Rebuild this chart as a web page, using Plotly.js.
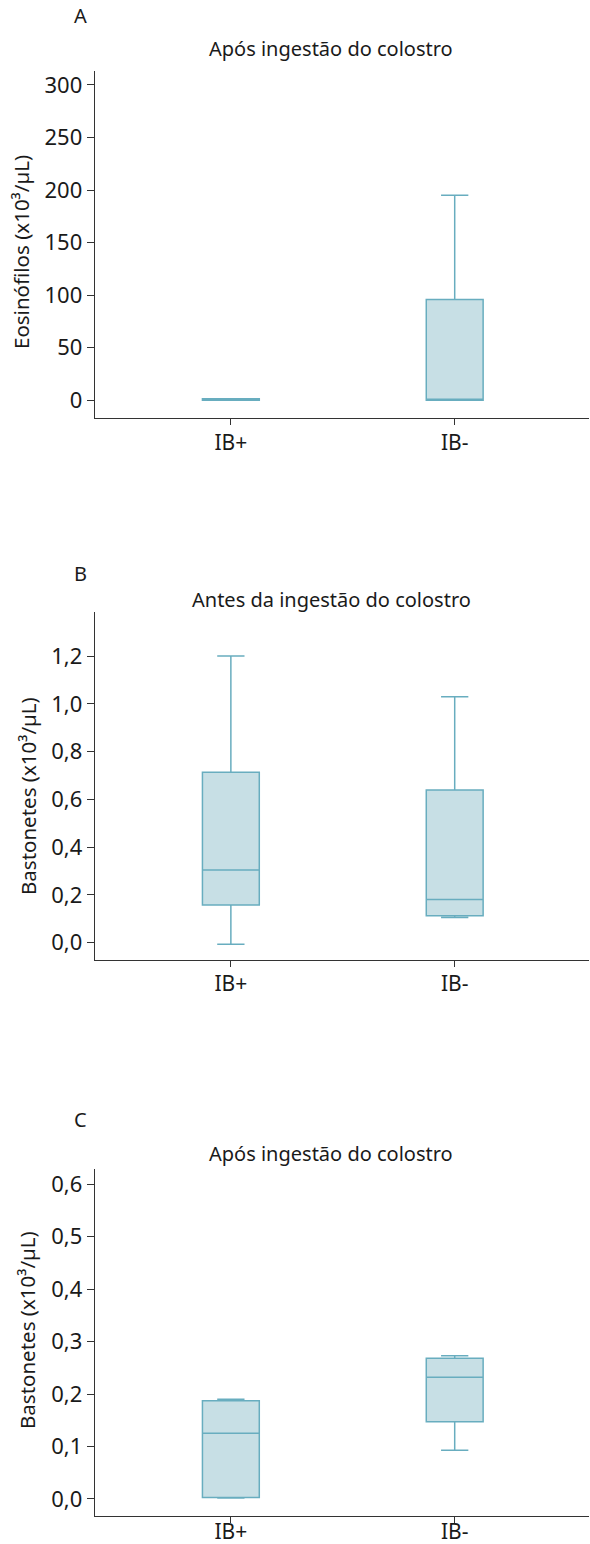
<!DOCTYPE html>
<html>
<head>
<meta charset="utf-8">
<script src="https://cdn.plot.ly/plotly-3.0.1.min.js"></script>
<style>html,body{margin:0;padding:0;background:#fff;}#chart{width:590px;height:1544px;}</style>
</head>
<body>
<div id="chart"></div>
<script>
// Categories
const categories = ['IB+', 'IB-'];

// Panel A: Eosinófilos, após ingestão do colostro
const eosLower  = [0, 0];
const eosQ1     = [0, 0];
const eosMedian = [0.8, 0];
const eosQ3     = [1.5, 96];
const eosUpper  = [1.5, 195];

// Panel B: Bastonetes, antes da ingestão do colostro
const bastAntesLower  = [-0.006, 0.106];
const bastAntesQ1     = [0.158, 0.113];
const bastAntesMedian = [0.304, 0.181];
const bastAntesQ3     = [0.713, 0.639];
const bastAntesUpper  = [1.2, 1.03];

// Panel C: Bastonetes, após ingestão do colostro
const bastAposLower  = [0.002, 0.093];
const bastAposQ1     = [0.003, 0.147];
const bastAposMedian = [0.125, 0.232];
const bastAposQ3     = [0.187, 0.268];
const bastAposUpper  = [0.190, 0.273];

// Text
const panelLetters = ['A', 'B', 'C'];
const panelTitles = ['Após ingestão do colostro', 'Antes da ingestão do colostro', 'Após ingestão do colostro'];
const yTitles = ['Eosinófilos (x10³/µL)', 'Bastonetes (x10³/µL)', 'Bastonetes (x10³/µL)'];

const W = 590, H = 1544;
const FONT = 'Noto Sans, Open Sans, sans-serif';
const lineCol = '#68adbf';
const fillCol = '#c7dfe5';

function px(x) { return x / W; }
function py(y) { return 1 - y / H; }

function boxTrace(xa, ya, lo, q1, med, q3, up) {
  return {
    type: 'box', x: categories, lowerfence: lo, q1: q1, median: med, q3: q3, upperfence: up,
    xaxis: xa, yaxis: ya, boxpoints: false, width: 0.254, whiskerwidth: 0.48,
    fillcolor: fillCol, line: { color: lineCol, width: 1.5 }, showlegend: false, hoverinfo: 'skip'
  };
}

const data = [
  boxTrace('x', 'y', eosLower, eosQ1, eosMedian, eosQ3, eosUpper),
  boxTrace('x2', 'y2', bastAntesLower, bastAntesQ1, bastAntesMedian, bastAntesQ3, bastAntesUpper),
  boxTrace('x3', 'y3', bastAposLower, bastAposQ1, bastAposMedian, bastAposQ3, bastAposUpper)
];

// pixel geometry of each panel: [top, bottom]
const panels = [[70.7, 417.5], [612.3, 960], [1169, 1516]];
const yRanges = [[-16.4, 313.6], [-0.0724, 1.383], [-0.0324, 0.6286]];
const yDticks = [50, 0.2, 0.1];
const yFormats = ['d', '.1f', '.1f'];
const xStandoff = [0, -2, -10];
const titleY = [48, 599, 1153];
const letterY = [15, 573, 1119];
const yTitlePos = [[21, 252], [28, 796], [27, 1330]];

const yTickFont = { family: FONT, size: 22, color: '#1a1a1a' };
const xTickFont = { family: FONT, size: 21, color: '#1a1a1a' };
const textFont = { family: FONT, size: 20, color: '#1a1a1a' };

const layout = {
  width: W, height: H,
  margin: { l: 0, r: 0, t: 0, b: 0 },
  paper_bgcolor: '#fff', plot_bgcolor: '#fff',
  separators: ',.',
  showlegend: false,
  annotations: []
};

for (let i = 0; i < 3; i++) {
  const sfx = i === 0 ? '' : String(i + 1);
  layout['xaxis' + sfx] = {
    domain: [px(95), px(589)], anchor: 'y' + sfx, type: 'category',
    range: [-0.607, 1.6], showgrid: false, zeroline: false,
    showline: true, linecolor: '#333', linewidth: 1.3,
    ticks: 'outside', ticklen: 6, tickwidth: 1, tickcolor: '#333',
    ticklabelstandoff: xStandoff[i],
    tickfont: xTickFont, automargin: false, fixedrange: true
  };
  layout['yaxis' + sfx] = {
    domain: [py(panels[i][1]), py(panels[i][0])], anchor: 'x' + sfx,
    range: yRanges[i], dtick: yDticks[i], tick0: 0, tickformat: yFormats[i],
    showgrid: false, zeroline: false,
    showline: true, linecolor: '#333', linewidth: 1.3,
    ticks: 'outside', ticklen: 7, tickwidth: 1, tickcolor: '#333',
    tickfont: yTickFont, automargin: false, fixedrange: true
  };
  layout.annotations.push({
    text: panelLetters[i], xref: 'paper', yref: 'paper', x: px(80), y: py(letterY[i]),
    xanchor: 'center', yanchor: 'middle', showarrow: false, font: textFont
  });
  layout.annotations.push({
    text: panelTitles[i], xref: 'paper', yref: 'paper', x: px(331), y: py(titleY[i]),
    xanchor: 'center', yanchor: 'middle', showarrow: false, font: textFont
  });
  layout.annotations.push({
    text: yTitles[i], xref: 'paper', yref: 'paper', x: px(yTitlePos[i][0]), y: py(yTitlePos[i][1]),
    xanchor: 'center', yanchor: 'middle', showarrow: false, textangle: -90,
    font: { family: FONT, size: 20.5, color: '#1a1a1a' }
  });
}

Plotly.newPlot('chart', data, layout, { staticPlot: true, displayModeBar: false });
</script>
</body>
</html>
